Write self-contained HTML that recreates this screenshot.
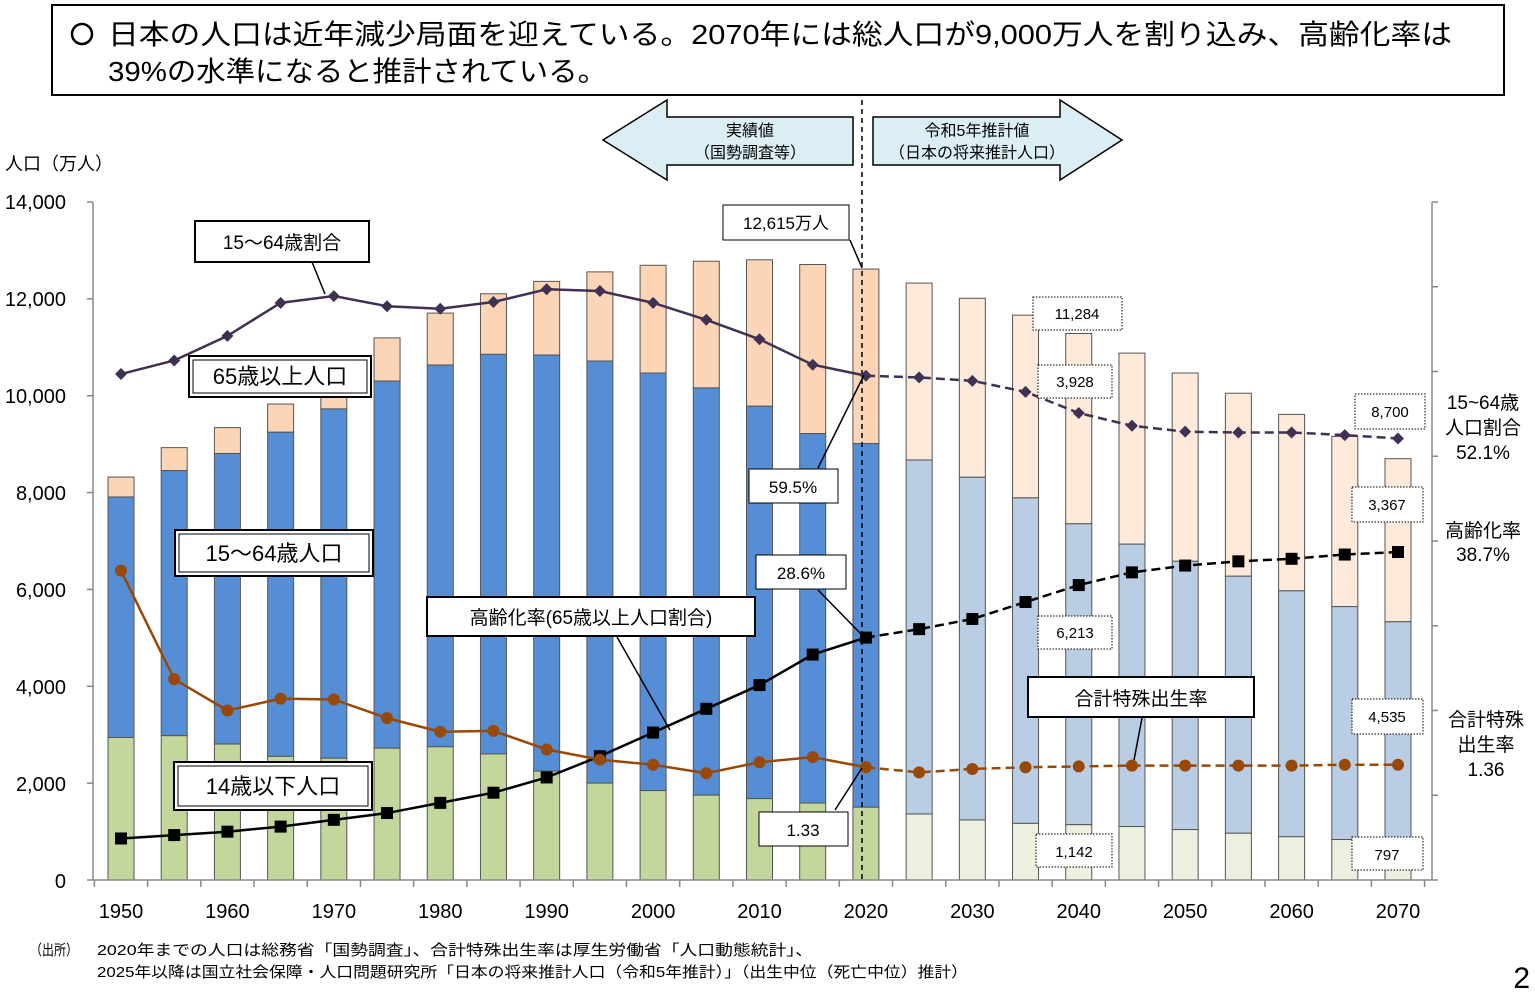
<!DOCTYPE html>
<html><head><meta charset="utf-8">
<style>
html,body{margin:0;padding:0;background:#fff;}
body{width:1535px;height:994px;overflow:hidden;font-family:"Liberation Sans","Noto Sans CJK JP",sans-serif;}
svg text{font-family:"Liberation Sans","Noto Sans CJK JP",sans-serif;}
</style></head><body>
<svg id="s" width="1535" height="994" xmlns="http://www.w3.org/2000/svg">
<rect x="52" y="5" width="1452" height="90" fill="#fff" stroke="#000" stroke-width="2"/>
<circle cx="82" cy="34" r="10" fill="none" stroke="#000" stroke-width="2.5"/>
<text x="108" y="44" font-size="28" textLength="1344" lengthAdjust="spacingAndGlyphs">日本の人口は近年減少局面を迎えている。2070年には総人口が9,000万人を割り込み、高齢化率は</text>
<text x="108" y="81" font-size="28" textLength="499" lengthAdjust="spacingAndGlyphs">39%の水準になると推計されている。</text>
<polygon points="603,140 667,100 667,117 853,117 853,165 667,165 667,180" fill="#dbeef4" stroke="#000" stroke-width="1.5"/>
<text x="750" y="136" font-size="16" text-anchor="middle">実績値</text>
<text x="750" y="158" font-size="16" text-anchor="middle">（国勢調査等）</text>
<polygon points="873,117 1060,117 1060,100 1122,140 1060,180 1060,165 873,165" fill="#dbeef4" stroke="#000" stroke-width="1.5"/>
<text x="977" y="136" font-size="16" text-anchor="middle">令和5年推計値</text>
<text x="977" y="158" font-size="16" text-anchor="middle">（日本の将来推計人口）</text>
<text x="5" y="170" font-size="18">人口（万人）</text>
<g font-size="20" text-anchor="end">
<text x="66" y="209">14,000</text><text x="66" y="306">12,000</text><text x="66" y="403">10,000</text>
<text x="66" y="500">8,000</text><text x="66" y="597">6,000</text><text x="66" y="694">4,000</text>
<text x="66" y="791">2,000</text><text x="66" y="888">0</text>
</g>
<g id="bars"></g>
<line x1="93" y1="202" x2="93" y2="880" stroke="#888" stroke-width="1.5"/>
<line x1="1432" y1="202" x2="1432" y2="880" stroke="#888" stroke-width="1.5"/>
<line x1="93" y1="880" x2="1432" y2="880" stroke="#888" stroke-width="1.5"/>
<g id="ticks" stroke="#888" stroke-width="1.5"></g>
<line x1="862" y1="100" x2="862" y2="880" stroke="#000" stroke-width="1.5" stroke-dasharray="5,4"/>
<g id="lines"></g>
<g font-size="20" text-anchor="middle" id="xl"></g>
<g stroke="#000" stroke-width="1.5" fill="none">
<line x1="312" y1="262" x2="325" y2="294"/>
<line x1="617" y1="637" x2="670" y2="730"/>
<line x1="818" y1="468" x2="864" y2="375"/>
<line x1="818" y1="590" x2="862" y2="635"/>
<line x1="835" y1="810" x2="862" y2="768"/>
<line x1="1142" y1="718" x2="1134" y2="760"/>
<line x1="850" y1="240" x2="862" y2="268"/>
</g>
<g fill="#fff" stroke="#000" stroke-width="2">
<rect x="195" y="221" width="174" height="41"/>
<rect x="189" y="356" width="182" height="41"/><rect x="193" y="360" width="174" height="33" stroke-width="1"/>
<rect x="175" y="530" width="198" height="46"/><rect x="179" y="534" width="190" height="38" stroke-width="1"/>
<rect x="174" y="762" width="198" height="48"/><rect x="178" y="766" width="190" height="40" stroke-width="1"/>
<rect x="427" y="597" width="328" height="39"/>
<rect x="1028" y="677" width="226" height="40"/>
</g>
<g fill="#fff" stroke="#000" stroke-width="1">
<rect x="723" y="205" width="126" height="35"/>
<rect x="749" y="469" width="89" height="34"/>
<rect x="756" y="555" width="90" height="34"/>
<rect x="759" y="812" width="89" height="34"/>
</g>
<g fill="#fff" stroke="#000" stroke-width="1" stroke-dasharray="1.5,1.5">
<rect x="1033" y="297" width="89" height="33"/>
<rect x="1038" y="365" width="74" height="33"/>
<rect x="1038" y="616" width="74" height="33"/>
<rect x="1036" y="834" width="76" height="33"/>
<rect x="1355" y="394" width="70" height="35"/>
<rect x="1352" y="487" width="71" height="35"/>
<rect x="1352" y="699" width="71" height="35"/>
<rect x="1352" y="837" width="71" height="33"/>
</g>
<text x="282" y="249" font-size="19" text-anchor="middle">15～64歳割合</text>
<text x="280" y="384" font-size="22" text-anchor="middle">65歳以上人口</text>
<text x="274" y="561" font-size="22" text-anchor="middle">15～64歳人口</text>
<text x="273" y="794" font-size="22" text-anchor="middle">14歳以下人口</text>
<text x="591" y="624" font-size="19" text-anchor="middle">高齢化率(65歳以上人口割合)</text>
<text x="1141" y="705" font-size="19" text-anchor="middle">合計特殊出生率</text>
<g font-size="17" text-anchor="middle">
<text x="786" y="229">12,615万人</text>
<text x="793" y="493">59.5%</text>
<text x="801" y="579">28.6%</text>
<text x="803" y="836">1.33</text>
</g>
<g font-size="15" text-anchor="middle">
<text x="1077" y="319">11,284</text>
<text x="1075" y="387">3,928</text>
<text x="1075" y="638">6,213</text>
<text x="1074" y="857">1,142</text>
<text x="1390" y="417">8,700</text>
<text x="1387" y="510">3,367</text>
<text x="1387" y="722">4,535</text>
<text x="1387" y="860">797</text>
</g>
<g font-size="19" text-anchor="middle">
<text x="1483" y="409">15~64歳</text><text x="1483" y="434">人口割合</text><text x="1483" y="459">52.1%</text>
<text x="1483" y="537">高齢化率</text><text x="1483" y="561">38.7%</text>
<text x="1486" y="726">合計特殊</text><text x="1486" y="751">出生率</text><text x="1486" y="776">1.36</text>
</g>
<text x="30" y="955" font-size="15" textLength="48" lengthAdjust="spacingAndGlyphs">（出所）</text>
<text x="97" y="955" font-size="15" textLength="716" lengthAdjust="spacingAndGlyphs">2020年までの人口は総務省「国勢調査」、合計特殊出生率は厚生労働省「人口動態統計」、</text>
<text x="97" y="977" font-size="15" textLength="871" lengthAdjust="spacingAndGlyphs">2025年以降は国立社会保障・人口問題研究所「日本の将来推計人口（令和5年推計）」（出生中位（死亡中位）推計）</text>
<text x="1530" y="988" font-size="30" text-anchor="end">2</text>
</svg>
<script>
var NS="http://www.w3.org/2000/svg";
function el(p,t,a){var e=document.createElementNS(NS,t);for(var k in a)e.setAttribute(k,a[k]);p.appendChild(e);return e;}
var d=[[8320,2943,4966],[8928,2980,5473],[9342,2807,6000],[9828,2553,6693],[10467,2515,7212],[11194,2722,7581],[11706,2751,7883],[12105,2603,8251],[12361,2249,8590],[12557,2001,8716],[12693,1847,8622],[12777,1752,8409],[12806,1680,8103],[12709,1589,7629],[12615,1503,7509],[12326,1363,7310],[12012,1240,7076],[11664,1169,6722],[11284,1142,6213],[10880,1103,5832],[10469,1041,5540],[10051,966,5307],[9615,893,5078],[9159,836,4809],[8700,797,4535]];
var r1=[59.7,61.3,64.2,68.1,68.9,67.7,67.4,68.2,69.7,69.5,68.1,66.1,63.8,60.8,59.5,59.3,58.9,57.6,55.1,53.6,52.9,52.8,52.8,52.5,52.1];
var r2=[4.9,5.3,5.7,6.3,7.1,7.9,9.1,10.3,12.1,14.6,17.4,20.2,23.0,26.6,28.6,29.6,30.8,32.8,34.8,36.3,37.1,37.6,37.9,38.4,38.7];
var r3=[3.65,2.37,2.00,2.14,2.13,1.91,1.75,1.76,1.54,1.42,1.36,1.26,1.39,1.45,1.33,1.27,1.31,1.33,1.34,1.35,1.35,1.35,1.35,1.36,1.36];
function X(i){return 121+i*1277/24;}
function Y(v){return 880-v*678/14000;}
function R(v){return 880-v*8.475;}
var b=document.getElementById('bars');
for(var i=0;i<25;i++){var f=i>14,x=X(i)-13,t=d[i];
 var yT=Y(t[0]),yB=Y(t[1]+t[2]),yG=Y(t[1]);
 el(b,'rect',{x:x,y:yT,width:26,height:yB-yT,fill:f?'#fdeada':'#fbd5b5',stroke:'#555','stroke-width':1});
 el(b,'rect',{x:x,y:yB,width:26,height:yG-yB,fill:f?'#b9cde5':'#558ed5',stroke:'#555','stroke-width':1});
 el(b,'rect',{x:x,y:yG,width:26,height:880-yG,fill:f?'#ebf1de':'#c3d69b',stroke:'#555','stroke-width':1});
}
var tk=document.getElementById('ticks');
for(var i=0;i<=24;i++){var x=X(i)-26.6;el(tk,'line',{x1:x,y1:880,x2:x,y2:887});}
el(tk,'line',{x1:X(24)+26.6,y1:880,x2:X(24)+26.6,y2:887});
for(var i=0;i<=7;i++){var y=Y(i*2000);el(tk,'line',{x1:87,y1:y,x2:93,y2:y});}
for(var i=0;i<=8;i++){var y=880-i*84.75;el(tk,'line',{x1:1432,y1:y,x2:1438,y2:y});}
var xl=document.getElementById('xl');
for(var i=0;i<25;i+=2){var t=el(xl,'text',{x:X(i),y:918});t.textContent=1950+i*5;}
var L=document.getElementById('lines');
function line(arr,fn,col,w){var p1=[],p2=[];for(var i=0;i<25;i++){var pt=X(i)+','+fn(arr[i]);if(i<=14)p1.push(pt);if(i>=14)p2.push(pt);}
 el(L,'polyline',{points:p1.join(' '),fill:'none',stroke:col,'stroke-width':w});
 el(L,'polyline',{points:p2.join(' '),fill:'none',stroke:col,'stroke-width':w,'stroke-dasharray':'9,5'});}
line(r1,R,'#403152',2.5);line(r2,R,'#000',2.5);line(r3,function(v){return R(v*10);},'#984807',2.5);
for(var i=0;i<25;i++){var x=X(i),y=R(r1[i]);
 el(L,'polygon',{points:(x-6)+','+y+' '+x+','+(y-6)+' '+(x+6)+','+y+' '+x+','+(y+6),fill:'#403152'});
 y=R(r2[i]);el(L,'rect',{x:x-6,y:y-6,width:12,height:12,fill:'#000'});
 y=R(r3[i]*10);el(L,'circle',{cx:x,cy:y,r:6,fill:'#984807'});}
</script>
</body></html>
